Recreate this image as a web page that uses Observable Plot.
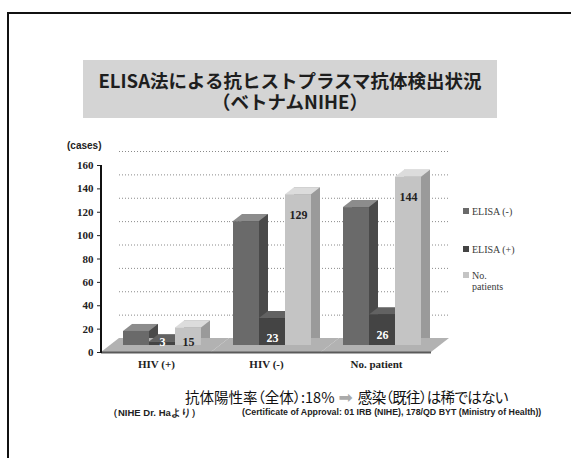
<!DOCTYPE html>
<html><head><meta charset="utf-8">
<script src="https://cdn.jsdelivr.net/npm/d3@7"></script>
<script src="https://cdn.jsdelivr.net/npm/@observablehq/plot@0.6"></script>
<style>
html,body{margin:0;padding:0;background:#fff}
body{width:571px;height:458px;position:relative;overflow:hidden;font-family:"Noto Sans CJK JP",sans-serif}
#frame{position:absolute;left:7px;top:12px;width:620px;height:520px;border-left:2px solid #111;border-top:2px solid #111}
#title{position:absolute;left:83px;top:60px;width:414px;height:58px;background:#d4d4d4;box-sizing:border-box;text-align:center;font-weight:bold;font-size:18.5px;color:#1e1e1e}
#title div{position:absolute;left:0;right:0;height:21px;line-height:21px}
#chart{position:absolute;left:0;top:140px}
#cases{position:absolute;left:67px;top:140px;font:bold 10px "Liberation Sans",Arial,sans-serif;color:#222}
.leg{position:absolute;left:463px;font:10px "Liberation Serif",serif;color:#3a3a3a;line-height:11px}
.leg i{display:inline-block;width:6px;height:6px;margin-right:3px;vertical-align:1px}
#conclusion{position:absolute;left:185px;top:388px;font-size:14.5px;line-height:18px;color:#111;white-space:nowrap;font-feature-settings:"palt"}
#conclusion .arrow{font-family:"DejaVu Sans";color:#aaa;font-size:17px;margin:0 5px 0 4px}
#conclusion .rest{letter-spacing:-0.6px}
.foot{position:absolute;top:407px;line-height:10px;font:bold 8.8px "Liberation Sans",Arial,sans-serif;color:#222;white-space:nowrap}
</style></head>
<body>
<div id="frame"></div>
<div id="title"><div style="top:10px">ELISA法による抗ヒストプラスマ抗体検出状況</div><div style="top:31px">（ベトナムNIHE）</div></div>
<div id="chart"></div>
<div id="cases">(cases)</div>
<div id="legend"></div>
<div id="conclusion">抗体陽性率（全体）:18%<span class="arrow">➡</span><span class="rest">感染（既往）は稀ではない</span></div>
<div class="foot" style="left:108px;font-size:9.5px">（NIHE Dr. Haより）</div>
<div class="foot" style="left:242px">(Certificate of Approval: 01 IRB (NIHE), 178/QD BYT (Ministry of Health))</div>
<script>
const groups = ["HIV (+)", "HIV (-)", "No. patient"];
const series = ["ELISA (-)", "ELISA (+)", "No. patients"];
const legendLabels = ["ELISA (-)", "ELISA (+)", "No.<br>patients"];
const elisaNeg = [12, 106, 118];
const elisaPos = [3, 23, 26];
const patients = [15, 129, 144];
const yTicks = [0, 20, 40, 60, 80, 100, 120, 140, 160];

const frontColors = ["#6a6a6a", "#444444", "#c4c4c4"];
const sideColors = ["#4a4a4a", "#2f2f2f", "#9a9a9a"];
const topColors = ["#8c8c8c", "#626262", "#dcdcdc"];
const labelColors = [null, "#ffffff", "#222222"];

const valuesBySeries = [elisaNeg, elisaPos, patients];
const rows = [];
series.forEach((s, i) => groups.forEach((g, j) => rows.push({group: g, series: s, value: valuesBySeries[i][j]})));

const marks = [
  Plot.ruleY(yTicks.filter(v => v > 0), {dx: 18, dy: -14, stroke: "#8a8a8a", strokeDasharray: "1,2", strokeWidth: 1}),
  Plot.rectY([0], {y1: 0, y2: 0, insetTop: -14, fill: "#b2b2b2"}),
  Plot.ruleY([0], {stroke: "#5a5a5a", strokeWidth: 2})
];
series.forEach((s, i) => {
  const d = rows.filter(r => r.series === s);
  marks.push(Plot.barY(d, {fx: "group", x: "series", y: "value", dx: 9, dy: -14, fill: sideColors[i]}));
  marks.push(Plot.barY(d, {fx: "group", x: "series", y1: "value", y2: "value", insetTop: -7, dy: -7, fill: topColors[i]}));
  marks.push(Plot.barY(d, {fx: "group", x: "series", y: "value", dy: -7, fill: frontColors[i]}));
});
series.forEach((s, i) => {
  if (!labelColors[i]) return;
  const d = rows.filter(r => r.series === s);
  marks.push(Plot.text(d, {fx: "group", x: "series", y: r => Math.max(r.value, 20), text: "value", dy: 13, fill: labelColors[i], fontSize: 12, fontWeight: "bold"}));
});

const margins = {marginLeft: 101, marginRight: 140, marginTop: 25, marginBottom: 30};
const chart = Plot.plot({
  width: 571,
  height: 242,
  ...margins,
  style: {fontFamily: "'Liberation Serif', serif", fontSize: "11px", fontWeight: "bold", color: "#222", background: "transparent", overflow: "visible"},
  fx: {domain: groups, padding: 0, axis: "bottom", label: null, tickSize: 0, tickPadding: 8},
  x: {domain: series, axis: null, paddingInner: 0, paddingOuter: 0.615, align: 0.69},
  y: {domain: [0, 160], ticks: yTicks, tickSize: 4, tickPadding: 4, label: null},
  marks
});
document.getElementById("chart").appendChild(chart);

function topGroups(label) {
  return Array.from(chart.querySelectorAll(`g[aria-label="${label}"]`))
    .filter(g => !g.parentElement.closest(`g[aria-label="${label}"]`));
}
function skewGroupRects(g, angle) {
  g.querySelectorAll("rect").forEach(r => {
    const b = +r.getAttribute("y") + +r.getAttribute("height");
    r.setAttribute("transform", `translate(0,${b}) skewX(${angle}) translate(0,${-b})`);
  });
}
topGroups("rect").forEach(g => skewGroupRects(g, -52.1));
topGroups("bar").forEach((g, k) => { if ((k % 9) % 3 === 1) skewGroupRects(g, -52.1); });

// vertical axis line from the y scale
const yScale = chart.scale("y");
d3.select(chart).append("line")
  .attr("x1", margins.marginLeft).attr("x2", margins.marginLeft)
  .attr("y1", yScale.apply(yTicks[0]) + 1).attr("y2", yScale.apply(yTicks[yTicks.length - 1]))
  .attr("stroke", "#111").attr("stroke-width", 2);

const legendTops = [206, 244, 270];
const legend = document.getElementById("legend");
series.forEach((s, i) => {
  const div = document.createElement("div");
  div.className = "leg";
  div.style.top = legendTops[i] + "px";
  div.innerHTML = `<i style="background:${frontColors[i]}"></i>${legendLabels[i].replace("<br>", "<br><span style='padding-left:9px'></span>")}`;
  legend.appendChild(div);
});
</script>
</body></html>
